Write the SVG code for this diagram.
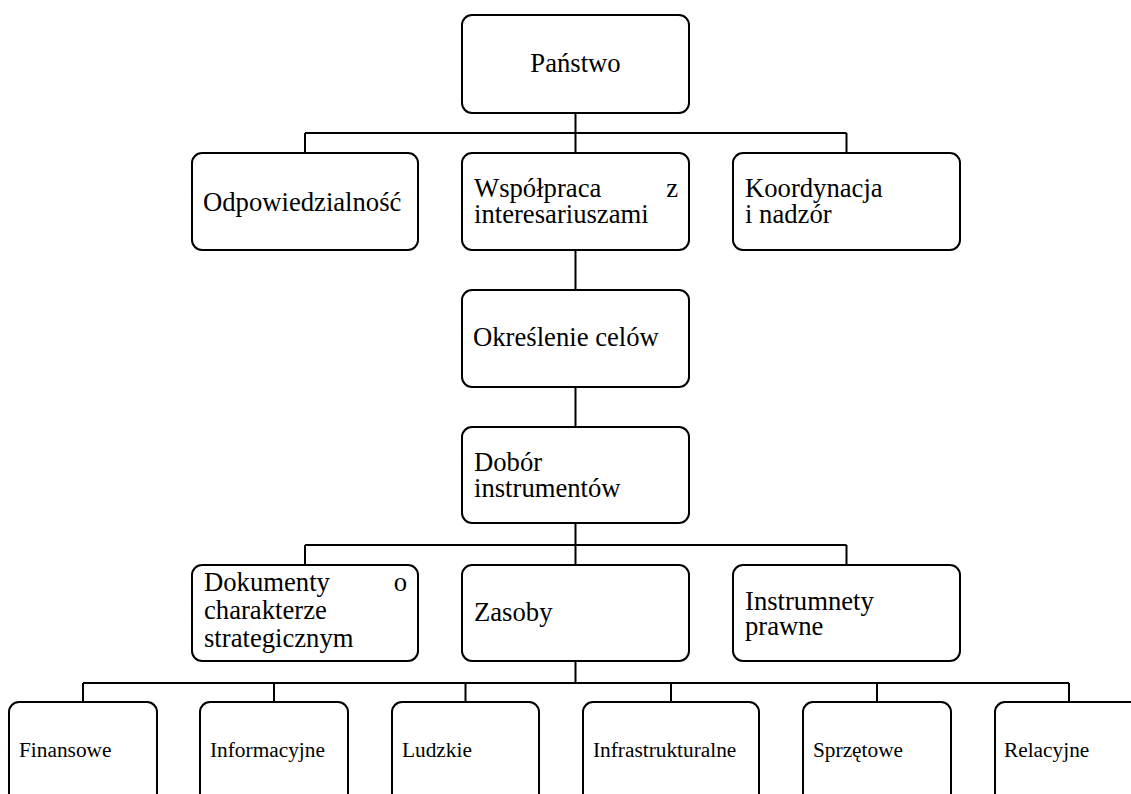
<svg xmlns="http://www.w3.org/2000/svg" width="1131" height="794" viewBox="0 0 1131 794">
<style>
.box{fill:#fff;stroke:#000;stroke-width:2}
.t{font-family:"Liberation Serif","Times New Roman",serif;font-size:26.67px;fill:#000}
.s{font-family:"Liberation Serif","Times New Roman",serif;font-size:21.33px;fill:#000}
.c{fill:none;stroke:#000;stroke-width:2}
</style>
<rect width="1131" height="794" fill="#fff"/>
<g id="connectors">
<path class="c" d="M575.5,113V153M305,133H846.5M305,133V153M846.5,133V153"/>
<path class="c" d="M575.5,250V290M575.5,387V427"/>
<path class="c" d="M575.5,523V565M305,545H846.5M305,545V565M846.5,545V565"/>
<path class="c" d="M575.5,661V683M83,683H1069M83,683V702M274,683V702M465.5,683V702M671,683V702M877,683V702M1069,683V702"/>
</g>
<g id="panstwo"><rect class="box" x="462" y="15" width="227" height="98" rx="10"/><text class="t" x="575.5" y="72" text-anchor="middle">Państwo</text></g>
<g id="odpowiedzialnosc"><rect class="box" x="192" y="153" width="226" height="97" rx="10"/><text class="t" x="203" y="211">Odpowiedzialność</text></g>
<g id="wspolpraca"><rect class="box" x="462" y="153" width="227" height="97" rx="10"/><text class="t"><tspan x="474" y="197">Współpraca</tspan><tspan x="678" y="197" text-anchor="end">z</tspan><tspan x="474" y="223">interesariuszami</tspan></text></g>
<g id="koordynacja"><rect class="box" x="733" y="153" width="227" height="97" rx="10"/><text class="t"><tspan x="745" y="197">Koordynacja</tspan><tspan x="745" y="223">i nadzór</tspan></text></g>
<g id="okreslenie"><rect class="box" x="462" y="290" width="227" height="97" rx="10"/><text class="t" x="473" y="346">Określenie celów</text></g>
<g id="dobor"><rect class="box" x="462" y="427" width="227" height="96" rx="10"/><text class="t"><tspan x="474" y="471">Dobór</tspan><tspan x="474" y="497">instrumentów</tspan></text></g>
<g id="dokumenty"><rect class="box" x="192" y="565" width="226" height="96" rx="10"/><text class="t"><tspan x="204" y="591">Dokumenty</tspan><tspan x="407" y="591" text-anchor="end">o</tspan><tspan x="204" y="619">charakterze</tspan><tspan x="204" y="647">strategicznym</tspan></text></g>
<g id="zasoby"><rect class="box" x="462" y="565" width="227" height="96" rx="10"/><text class="t" x="474" y="621">Zasoby</text></g>
<g id="instrumnety"><rect class="box" x="733" y="565" width="227" height="96" rx="10"/><text class="t"><tspan x="745" y="610">Instrumnety</tspan><tspan x="745" y="635">prawne</tspan></text></g>
<g id="finansowe"><rect class="box" x="9" y="702" width="148" height="120" rx="10"/><text class="s" x="19" y="757">Finansowe</text></g>
<g id="informacyjne"><rect class="box" x="200" y="702" width="148" height="120" rx="10"/><text class="s" x="210" y="757">Informacyjne</text></g>
<g id="ludzkie"><rect class="box" x="392" y="702" width="147" height="120" rx="10"/><text class="s" x="402" y="757">Ludzkie</text></g>
<g id="infrastrukturalne"><rect class="box" x="583" y="702" width="176" height="120" rx="10"/><text class="s" x="593" y="757">Infrastrukturalne</text></g>
<g id="sprzetowe"><rect class="box" x="803" y="702" width="148" height="120" rx="10"/><text class="s" x="813" y="757">Sprzętowe</text></g>
<g id="relacyjne"><rect class="box" x="995" y="702" width="148" height="120" rx="10"/><text class="s" x="1004" y="757">Relacyjne</text></g>
</svg>
